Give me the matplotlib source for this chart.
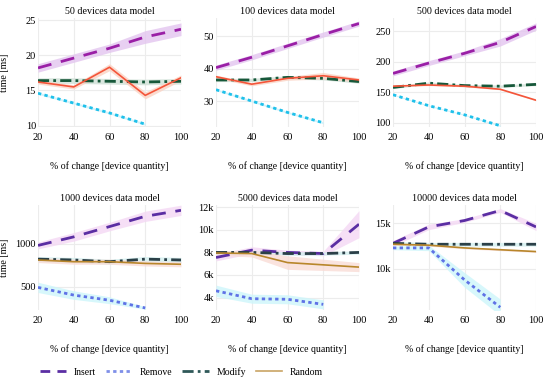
"""
Six-panel timing chart: insert/remove/modify/random per data model size.
Outputs: out.png
"""

import matplotlib.pyplot as plt
from matplotlib.ticker import FuncFormatter

plt.rcParams["font.family"] = ["Liberation Serif", "DejaVu Serif"]

# --- Data ---
change_pct = [20, 40, 60, 80, 100]
remove_pct = [20, 40, 60, 80]

# 50 devices
d50_insert = [18.2, 19.6, 21.0, 22.6, 23.7]
d50_remove = [14.6, 13.2, 11.8, 10.2]
d50_modify = [16.4, 16.4, 16.3, 16.2, 16.3]
d50_random = [16.2, 15.5, 18.3, 14.3, 16.8]
d50_insert_sd = [0.6, 0.6, 0.6, 0.9, 0.9]
d50_remove_sd = [0.15, 0.15, 0.15, 0.15]
d50_modify_sd = [0.4, 0.4, 0.4, 0.4, 0.4]
d50_random_sd = [0.3, 0.3, 0.5, 0.5, 0.4]

# 100 devices
d100_insert = [40.3, 43.5, 47.0, 50.5, 53.9]
d100_remove = [33.5, 30.0, 26.5, 23.3]
d100_modify = [36.5, 36.5, 37.3, 37.0, 36.0]
d100_random = [37.5, 35.2, 37.0, 37.8, 36.5]
d100_insert_sd = [0.8, 0.8, 0.8, 0.8, 0.8]
d100_remove_sd = [0.3, 0.3, 0.3, 0.3]
d100_modify_sd = [0.5, 0.5, 0.5, 0.5, 0.5]
d100_random_sd = [0.5, 0.5, 0.6, 1.0, 0.6]

# 500 devices
d500_insert = [181, 198, 214, 232, 258]
d500_remove = [146, 128, 113, 95]
d500_modify = [158, 165, 161, 160, 163]
d500_random = [160, 162, 160, 155, 137]
d500_insert_sd = [4, 4, 4, 6, 6]
d500_remove_sd = [1, 1, 1, 1]
d500_modify_sd = [2, 2, 2, 2, 2]
d500_random_sd = [1, 1, 1, 1, 1]

# 1000 devices
d1000_insert = [980, 1080, 1200, 1320, 1390]
d1000_remove = [490, 400, 340, 250]
d1000_modify = [820, 810, 790, 820, 810]
d1000_random = [810, 790, 790, 770, 760]
d1000_insert_sd = [40, 50, 50, 60, 60]
d1000_remove_sd = [60, 50, 40, 15]
d1000_modify_sd = [30, 30, 30, 30, 30]
d1000_random_sd = [30, 30, 30, 30, 30]

# 5000 devices
d5000_insert = [7550, 8200, 8000, 7900, 10500]
d5000_remove = [4600, 3900, 3850, 3400]
d5000_modify = [8000, 8000, 7900, 7900, 8000]
d5000_random = [7950, 7900, 7100, 6900, 6700]
d5000_insert_sd = [300, 300, 200, 200, 1200]
d5000_remove_sd = [500, 400, 400, 400]
d5000_modify_sd = [150, 150, 150, 150, 150]
d5000_random_sd = [200, 300, 600, 500, 400]

# 10000 devices
d10000_insert = [12800, 14600, 15300, 16400, 14600]
d10000_remove = [12300, 12300, 8800, 5800]
d10000_modify = [12800, 12700, 12700, 12700, 12700]
d10000_random = [12700, 12600, 12300, 12100, 11900]
d10000_insert_sd = [300, 300, 200, 200, 400]
d10000_remove_sd = [200, 300, 800, 900]
d10000_modify_sd = [200, 200, 200, 200, 200]
d10000_random_sd = [100, 100, 100, 100, 100]

titles = ["50 devices data model", "100 devices data model", "500 devices data model",
          "1000 devices data model", "5000 devices data model", "10000 devices data model"]
y_ticks = [[10, 15, 20, 25], [30, 40, 50], [100, 150, 200, 250],
           [500, 1000], [4000, 6000, 8000, 10000, 12000], [10000, 15000]]
y_lims = [(9.8, 25.3), (22, 55.6), (93, 272), (226, 1452), (2900, 12200), (5500, 17000)]
x_ticks = [20, 40, 60, 80, 100]

panels = [
    (d50_insert, d50_remove, d50_modify, d50_random,
     d50_insert_sd, d50_remove_sd, d50_modify_sd, d50_random_sd),
    (d100_insert, d100_remove, d100_modify, d100_random,
     d100_insert_sd, d100_remove_sd, d100_modify_sd, d100_random_sd),
    (d500_insert, d500_remove, d500_modify, d500_random,
     d500_insert_sd, d500_remove_sd, d500_modify_sd, d500_random_sd),
    (d1000_insert, d1000_remove, d1000_modify, d1000_random,
     d1000_insert_sd, d1000_remove_sd, d1000_modify_sd, d1000_random_sd),
    (d5000_insert, d5000_remove, d5000_modify, d5000_random,
     d5000_insert_sd, d5000_remove_sd, d5000_modify_sd, d5000_random_sd),
    (d10000_insert, d10000_remove, d10000_modify, d10000_random,
     d10000_insert_sd, d10000_remove_sd, d10000_modify_sd, d10000_random_sd),
]

# line colours / band colours, top row vs bottom row
top_colors = {"insert": "#9a1fa6", "remove": "#1fc0ea", "modify": "#17583a", "random": "#f4553a"}
top_bands = {"insert": "#e3c5ef", "remove": "#c9f1fb", "modify": "#cfe0d6", "random": "#fbd3c4"}
bot_colors = {"insert": "#5b2ea3", "remove": "#5f72e6", "modify": "#2b4048", "random": "#b8862b"}
bot_bands = {"insert": "#f4d8f4", "remove": "#cdf6fb", "modify": "#d2efef", "random": "#f9dcd6"}
legend_colors = ["#5b2ea3", "#7f8fe8", "#2f5858", "#c9a465"]

styles = {
    "insert": dict(linestyle=(0, (5, 3.5)), linewidth=2.0),
    "remove": dict(linestyle=(0, (1.2, 1.2)), linewidth=2.0),
    "modify": dict(linestyle=(0, (4, 1.5, 1, 1.5)), linewidth=2.0),
    "random": dict(linestyle="-", linewidth=1.2),
}
legend_styles = dict(styles, insert=dict(linestyle=(0, (3.5, 2.6)), linewidth=2.0))


def k_fmt(v, _pos):
    return f"{int(v / 1000)}k"


def main() -> None:
    fig = plt.figure(figsize=(5.5, 3.83), dpi=100)

    lefts = [38 / 550, 216 / 550, 393 / 550]
    width = 143 / 550
    rows = [(1 - 127 / 383, 109 / 383), (1 - 310 / 383, 105 / 383)]

    handles = []
    for i, data in enumerate(panels):
        row, col = divmod(i, 3)
        bottom, height = rows[row]
        ax = fig.add_axes([lefts[col], bottom, width, height])
        colors = top_colors if row == 0 else bot_colors
        bands = top_bands if row == 0 else bot_bands

        ins, rem, mod, rnd, ins_sd, rem_sd, mod_sd, rnd_sd = data
        series = [
            ("insert", "Insert", change_pct, ins, ins_sd),
            ("remove", "Remove", remove_pct, rem, rem_sd),
            ("modify", "Modify", change_pct, mod, mod_sd),
            ("random", "Random", change_pct, rnd, rnd_sd),
        ]
        for key, label, xs, ys, sd in series:
            lo = [y - s for y, s in zip(ys, sd)]
            hi = [y + s for y, s in zip(ys, sd)]
            ax.fill_between(xs, lo, hi, color=bands[key], alpha=0.8, linewidth=0, zorder=1)
        for key, label, xs, ys, sd in series:
            ax.plot(xs, ys, color=colors[key], label=label, zorder=3, **styles[key])

        ax.set_xlim(20, 100)
        ax.set_ylim(*y_lims[i])
        ax.set_xticks(x_ticks)
        ax.set_yticks(y_ticks[i])
        if i >= 4:
            ax.yaxis.set_major_formatter(FuncFormatter(k_fmt))
        ax.grid(True, color="#ececec", linewidth=0.8, zorder=0)
        ax.set_axisbelow(True)
        for s in ax.spines.values():
            s.set_visible(False)
        ax.tick_params(axis="x", length=0, labelsize=7.5, pad=4)
        ax.tick_params(axis="y", length=0, labelsize=7.5, pad=1.5)
        ax.set_title(titles[i], fontsize=7.2, pad=3)
        ax.set_xlabel("% of change [device quantity]", fontsize=7, labelpad=14)
        if col == 0:
            ax.set_ylabel("time [ms]", fontsize=7.2)
            ax.yaxis.set_label_coords(-29 / 143, 0.5)

    # legend entries styled like the bottom-row series
    for key, c in zip(["insert", "remove", "modify", "random"], legend_colors):
        (h,) = plt.plot([], [], color=c, **legend_styles[key])
        handles.append(h)
    fig.legend(handles, ["Insert", "Remove", "Modify", "Random"],
               loc="center left", bbox_to_anchor=(40 / 550, 1 - 372 / 383),
               ncol=4, frameon=False, fontsize=7, handlelength=2.7,
               columnspacing=1.0, handletextpad=0.8, borderaxespad=0, borderpad=0)

    fig.savefig("out.png", dpi=100)
    plt.close(fig)


if __name__ == "__main__":
    main()
